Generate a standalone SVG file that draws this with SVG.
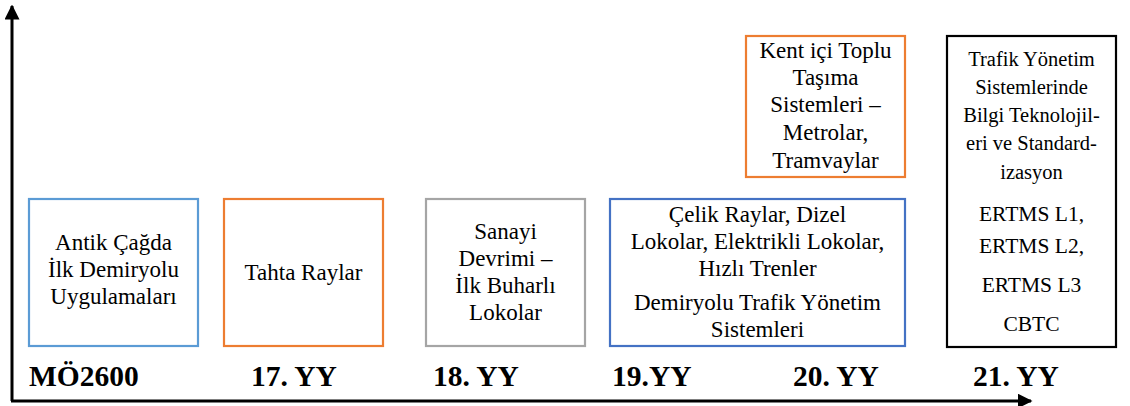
<svg xmlns="http://www.w3.org/2000/svg" width="1130" height="406" viewBox="0 0 1130 406">
<style>
.nodetext{font-family:"Liberation Serif","Times New Roman",serif;font-size:23px;fill:#000;text-anchor:middle}
.smalltext{font-size:20.5px}
.midtext{font-size:21.5px}
.yearlbl{font-family:"Liberation Serif","Times New Roman",serif;font-size:29.5px;font-weight:bold;fill:#000}
.nodebox{fill:#fff;stroke-width:2.2}
</style>
<defs>
<marker id="ah" viewBox="0 0 10 10" refX="9" refY="5" markerWidth="5" markerHeight="5" orient="auto" markerUnits="strokeWidth">
<path d="M0,0L10,5L0,10z" fill="#000"/>
</marker>
</defs>
<rect width="1130" height="406" fill="#fff"/>
<g id="connectors" stroke="#000" stroke-width="3" fill="none">
<path d="M12,401V6" marker-end="url(#ah)"/>
<path d="M11,401H1031" marker-end="url(#ah)"/>
</g>
<g id="n1"><rect class="nodebox" x="29" y="199" width="169" height="147" stroke="#5B9BD5"/>
<text class="nodetext"><tspan x="113.5" y="250">Antik Çağda</tspan><tspan x="113.5" y="277">İlk Demiryolu</tspan><tspan x="113.5" y="304">Uygulamaları</tspan></text></g>
<g id="n2"><rect class="nodebox" x="224" y="199" width="159" height="147" stroke="#ED7D31"/>
<text class="nodetext" x="303.5" y="280">Tahta Raylar</text></g>
<g id="n3"><rect class="nodebox" x="426" y="199" width="159" height="147" stroke="#A5A5A5"/>
<text class="nodetext"><tspan x="505.5" y="239">Sanayi</tspan><tspan x="505.5" y="266">Devrimi –</tspan><tspan x="505.5" y="293">İlk Buharlı</tspan><tspan x="505.5" y="320">Lokolar</tspan></text></g>
<g id="n4"><rect class="nodebox" x="610" y="199" width="295" height="147" stroke="#4472C4"/>
<text class="nodetext"><tspan x="757.5" y="222">Çelik Raylar, Dizel</tspan><tspan x="757.5" y="249">Lokolar, Elektrikli Lokolar,</tspan><tspan x="757.5" y="276">Hızlı Trenler</tspan><tspan x="757.5" y="310">Demiryolu Trafik Yönetim</tspan><tspan x="757.5" y="337">Sistemleri</tspan></text></g>
<g id="n5"><rect class="nodebox" x="746" y="36" width="159" height="141" stroke="#ED7D31"/>
<text class="nodetext"><tspan x="825.5" y="58">Kent içi Toplu</tspan><tspan x="825.5" y="85">Taşıma</tspan><tspan x="825.5" y="112">Sistemleri –</tspan><tspan x="825.5" y="140">Metrolar,</tspan><tspan x="825.5" y="168">Tramvaylar</tspan></text></g>
<g id="n6"><rect class="nodebox" x="947" y="36" width="169" height="311" stroke="#000"/>
<text class="nodetext smalltext"><tspan x="1031.5" y="66">Trafik Yönetim</tspan><tspan x="1031.5" y="94">Sistemlerinde</tspan><tspan x="1031.5" y="122">Bilgi Teknolojil-</tspan><tspan x="1031.5" y="150">eri ve Standard-</tspan><tspan x="1031.5" y="179">izasyon</tspan></text>
<text class="nodetext midtext"><tspan x="1031.5" y="221">ERTMS L1,</tspan><tspan x="1031.5" y="253">ERTMS L2,</tspan><tspan x="1031.5" y="292">ERTMS L3</tspan><tspan x="1031.5" y="331">CBTC</tspan></text></g>
<g id="labels">
<text class="yearlbl" x="29" y="386">MÖ2600</text>
<text class="yearlbl" x="251" y="386">17. YY</text>
<text class="yearlbl" x="433" y="386">18. YY</text>
<text class="yearlbl" x="612" y="386">19.YY</text>
<text class="yearlbl" x="793" y="386">20. YY</text>
<text class="yearlbl" x="973" y="386">21. YY</text>
</g>
</svg>
